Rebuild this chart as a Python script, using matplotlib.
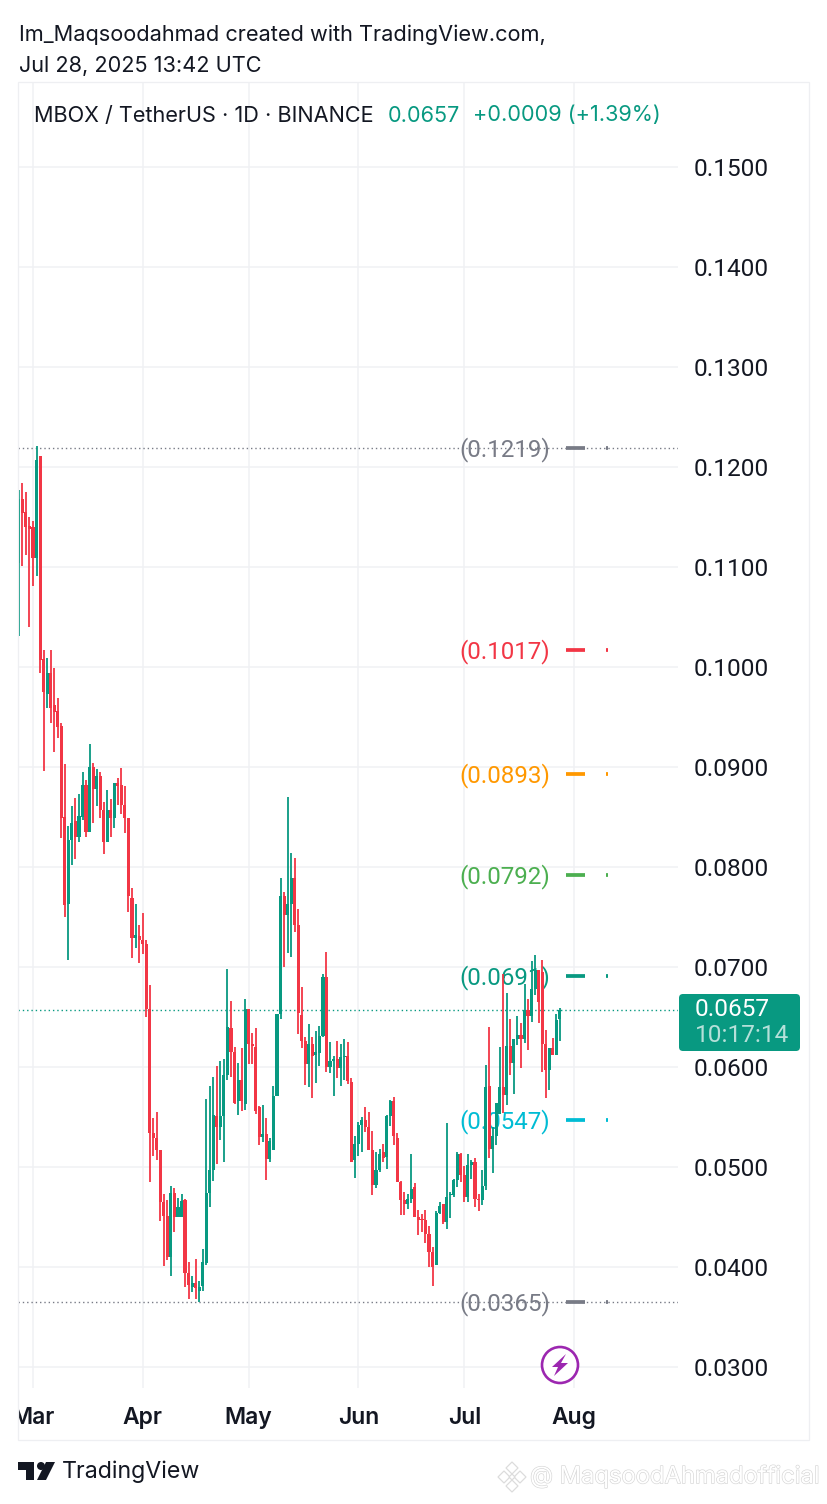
import numpy as np
import pandas as pd
import matplotlib
matplotlib.use('Agg')
import matplotlib.pyplot as plt
import matplotlib.dates as mdates
from matplotlib.patches import Rectangle, Circle, Polygon, FancyBboxPatch
from matplotlib.transforms import Affine2D, Bbox
import matplotlib.patheffects as pe

plt.rcParams['font.family'] = ['Inter', 'DejaVu Sans']

# --- daily candles, 25 Feb -> 28 Jul 2025 ---
start_date = '2025-02-25'
opens = [
    .1104, .1167, .1154, .1140, .1139, .1109, .1210, .1007, .0973, .0993, .0961, .0955, .0940, .0850, .0763, .0827,
    .0846, .0830, .0850, .0881, .0835, .0899, .0878, .0890, .0857, .0825, .0857, .0849, .0883, .0881, .0862, .0849,
    .0769, .0729, .0731, .0727, .0723, .0658, .0534, .0529, .0517, .0465, .0451, .0410, .0474, .0450, .0450, .0467,
    .0394, .0380, .0384, .0376, .0381, .0404, .0474, .0497, .0551, .0540, .0551, .0592, .0639, .0615, .0566, .0587,
    .0563, .0658, .0623, .0620, .0560, .0530, .0533, .0508, .0517, .0571, .0653, .0771, .0752, .0763, .0789, .0742,
    .0652, .0626, .0603, .0623, .0612, .0614, .0631, .0690, .0600, .0606, .0608, .0599, .0610, .0611, .0585, .0507,
    .0523, .0542, .0547, .0540, .0517, .0482, .0497, .0515, .0510, .0551, .0566, .0529, .0485, .0467, .0463, .0468,
    .0480, .0450, .0448, .0447, .0433, .0415, .0402, .0454, .0463, .0445, .0472, .0472, .0487, .0513, .0492, .0470,
    .0502, .0505, .0468, .0467, .0481, .0581, .0518, .0531, .0553, .0580, .0572, .0621, .0604, .0628, .0632, .0628,
    .0657, .0651, .0678, .0697, .0695, .0623, .0597, .0619, .0612, .0648,
]
highs = [
    .1177, .1184, .1175, .1150, .1146, .1221, .1210, .1017, .1009, .1017, .0999, .0969, .0944, .0903, .0841, .0861,
    .0869, .0873, .0895, .0887, .0923, .0904, .0898, .0895, .0865, .0877, .0868, .0884, .0889, .0899, .0881, .0849,
    .0779, .0763, .0742, .0754, .0727, .0682, .0549, .0555, .0517, .0473, .0467, .0481, .0479, .0469, .0473, .0468,
    .0405, .0391, .0408, .0386, .0418, .0568, .0581, .0590, .0601, .0606, .0608, .0698, .0666, .0620, .0604, .0619,
    .0668, .0658, .0634, .0639, .0561, .0562, .0549, .0529, .0581, .0653, .0789, .0775, .0870, .0814, .0809, .0758,
    .0680, .0630, .0643, .0630, .0636, .0641, .0693, .0715, .0625, .0611, .0626, .0623, .0628, .0625, .0589, .0531,
    .0545, .0550, .0560, .0555, .0536, .0515, .0518, .0523, .0552, .0567, .0570, .0534, .0486, .0475, .0473, .0513,
    .0484, .0457, .0453, .0457, .0441, .0420, .0456, .0465, .0463, .0544, .0475, .0488, .0515, .0514, .0501, .0513,
    .0507, .0509, .0473, .0497, .0602, .0640, .0540, .0564, .0620, .0693, .0674, .0648, .0628, .0651, .0644, .0683,
    .0668, .0706, .0712, .0697, .0707, .0637, .0619, .0629, .0653, .0659,
]
lows = [
    .1031, .1101, .1112, .1040, .1081, .1091, .0994, .0896, .0959, .0944, .0915, .0929, .0829, .0750, .0707, .0802,
    .0808, .0825, .0847, .0830, .0835, .0844, .0861, .0849, .0813, .0825, .0830, .0839, .0862, .0853, .0834, .0755,
    .0709, .0719, .0704, .0713, .0650, .0485, .0511, .0507, .0446, .0401, .0407, .0391, .0435, .0450, .0450, .0380,
    .0368, .0375, .0368, .0365, .0376, .0402, .0460, .0486, .0503, .0527, .0505, .0587, .0590, .0563, .0552, .0556,
    .0557, .0603, .0603, .0553, .0522, .0525, .0487, .0505, .0517, .0571, .0648, .0700, .0714, .0710, .0735, .0633,
    .0619, .0582, .0580, .0569, .0584, .0601, .0630, .0595, .0594, .0571, .0589, .0581, .0587, .0583, .0505, .0489,
    .0511, .0515, .0535, .0517, .0472, .0479, .0495, .0505, .0498, .0541, .0522, .0485, .0452, .0452, .0458, .0464,
    .0450, .0432, .0435, .0424, .0400, .0381, .0402, .0453, .0443, .0438, .0449, .0470, .0480, .0485, .0465, .0465,
    .0488, .0460, .0456, .0462, .0477, .0509, .0494, .0522, .0553, .0554, .0562, .0592, .0573, .0622, .0599, .0624,
    .0617, .0645, .0672, .0644, .0595, .0569, .0577, .0612, .0612, .0626,
]
closes = [
    .1167, .1154, .1140, .1138, .1109, .1206, .1007, .0975, .0993, .0959, .0955, .0940, .0849, .0762, .0827, .0844,
    .0830, .0851, .0881, .0835, .0899, .0878, .0890, .0857, .0825, .0857, .0849, .0883, .0881, .0862, .0849, .0771,
    .0729, .0732, .0727, .0723, .0658, .0534, .0529, .0517, .0465, .0451, .0410, .0474, .0450, .0460, .0466, .0394,
    .0382, .0384, .0379, .0380, .0405, .0474, .0497, .0552, .0540, .0551, .0592, .0640, .0615, .0564, .0587, .0566,
    .0658, .0623, .0621, .0556, .0530, .0533, .0508, .0526, .0571, .0653, .0771, .0752, .0763, .0789, .0742, .0654,
    .0626, .0603, .0623, .0611, .0615, .0631, .0690, .0600, .0606, .0608, .0599, .0610, .0611, .0586, .0505, .0523,
    .0542, .0547, .0540, .0517, .0482, .0497, .0513, .0509, .0551, .0566, .0531, .0485, .0467, .0463, .0468, .0478,
    .0450, .0447, .0447, .0433, .0415, .0400, .0454, .0461, .0445, .0470, .0473, .0487, .0513, .0492, .0470, .0502,
    .0505, .0468, .0467, .0481, .0580, .0518, .0531, .0564, .0580, .0572, .0621, .0604, .0628, .0632, .0628, .0657,
    .0651, .0678, .0697, .0665, .0623, .0597, .0619, .0612, .0647, .0657,
]

# pivot levels drawn on the right side
level_prices = [.1219, .1017, .0893, .0792, .0691, .0547, .0365]
level_colors = ['#787b86', '#f23645', '#ff9800', '#4caf50', '#089981', '#00bcd4', '#787b86']

y_ticks = [.03, .04, .05, .06, .07, .08, .09, .10, .11, .12, .13, .14, .15]
month_ticks = ['2025-03-01', '2025-04-01', '2025-05-01', '2025-06-01', '2025-07-01', '2025-08-01']
month_labels = ['Mar', 'Apr', 'May', 'Jun', 'Jul', 'Aug']

last_price = .0657

GREEN = '#089981'
RED = '#f23645'
INK = '#131722'
GRID = '#f0f1f4'
NUM = 'Roboto'  # its digits are all one width, like the original labels

W, H = 828, 1504
fig = plt.figure(figsize=(W / 100, H / 100), dpi=100, facecolor='white')
# decorations are placed in image pixels (y down)
px = Affine2D().scale(1, -1).translate(0, H)

L, R, T, B = 18, 678, 82, 1388
ax = fig.add_axes([L / W, 1 - B / H, (R - L) / W, (B - T) / H])
for s in ax.spines.values():
    s.set_visible(False)

dates = pd.date_range(start_date, periods=len(closes))
x = mdates.date2num(dates)
o, h, l, c = map(np.array, (opens, highs, lows, closes))
up = c >= o
colors = np.where(up, GREEN, RED)

ax.vlines(x, l, h, colors=colors, lw=1.3, zorder=3)
ax.bar(x, np.abs(c - o) + 0.00005, bottom=np.minimum(o, c), width=0.88, color=colors, lw=0, zorder=3.1)

x0 = mdates.date2num(pd.Timestamp('2025-03-01'))
ax.set_xlim(x0 - 15 / 3.536, x0 + 645 / 3.536)
ax.set_ylim(.15 - (B - 166.5) / 10008, .15 + (166.5 - T) / 10008)

ax.set_yticks(y_ticks)
ax.set_yticklabels([f'{v:.4f}' for v in y_ticks])
ax.yaxis.tick_right()
ax.tick_params(axis='y', length=0, pad=11.5, labelsize=17.6, labelcolor=INK, labelfontfamily=NUM)
ax.set_xticks(mdates.date2num(pd.to_datetime(month_ticks)))
ax.set_xticklabels(month_labels, fontweight='semibold')
ax.tick_params(axis='x', length=0, pad=14, labelsize=16.5, labelcolor=INK)
# "Mar" gets cut by the pane edge
clip = Bbox([[L, 0], [W, H]])
for lab in ax.get_xticklabels():
    lab.set_clip_box(clip)
    lab.set_clip_on(True)

ax.grid(True, color=GRID, lw=1.1, zorder=0)
ax.set_axisbelow(True)

# dotted price lines
ax.axhline(.1219, color='#787b86', lw=1, ls=(0, (1, 2.1)), zorder=2)
ax.axhline(.0365, color='#787b86', lw=1, ls=(0, (1, 2.1)), zorder=2)
ax.axhline(last_price, color=GREEN, lw=1, ls=(0, (1, 2.1)), zorder=2)

# level labels, dash and dot
yt = ax.get_yaxis_transform()
for p, col in zip(level_prices, level_colors):
    ax.text((505 - L) / (R - L), p - .00015, f'({p:.4f})', transform=yt, color=col, fontsize=17.4,
            fontfamily=NUM, ha='center', va='center', zorder=1.5)
    ax.plot([(566 - L) / (R - L), (585 - L) / (R - L)], [p, p], transform=yt, color=col, lw=2.7,
            solid_capstyle='butt', zorder=2.5)
    ax.plot([(606.5 - L) / (R - L), (608.5 - L) / (R - L)], [p, p], transform=yt, color=col, lw=2.7,
            solid_capstyle='butt', zorder=2.5)

# frame round the chart
fig.add_artist(Rectangle((18, 82), 791, 1358, transform=px, fill=False, ec='#eeeff2', lw=0.9))

# header
fig.text(19, 34.5, 'Im_Maqsoodahmad created with TradingView.com,', transform=px, fontsize=15.65, color=INK, va='center')
fig.text(19, 65.5, 'Jul 28, 2025 13:42 UTC', transform=px, fontsize=15.65, color=INK, va='center')
fig.text(34, 115.5, 'MBOX / TetherUS · 1D · BINANCE', transform=px, fontsize=15.6, color=INK, va='center')
fig.text(388, 115.5, f'{last_price:.4f}', transform=px, fontsize=15.6, color=GREEN, va='center')
fig.text(473, 115.5, '+0.0009 (+1.39%)', transform=px, fontsize=15.6, color=GREEN, va='center')

# last price tag
fig.add_artist(FancyBboxPatch((682, 997), 115, 51, boxstyle='round,pad=3,rounding_size=4', transform=px,
                              fc=GREEN, ec='none'))
fig.text(695, 1010, f'{last_price:.4f}', transform=px, fontsize=17.6, color='white', va='center', fontfamily=NUM)
fig.text(695, 1036, '10:17:14', transform=px, fontsize=17.6, color='#b5e0d9', va='center', fontfamily=NUM)

# purple bolt badge
fig.add_artist(Circle((560, 1365), 18, transform=px, fc='white', ec='#9c27b0', lw=1.9))
fig.add_artist(Polygon([(566, 1354), (552, 1367), (558, 1367), (554, 1376), (568, 1363), (561, 1363)],
                       transform=px, fc='#9c27b0', ec='none'))

# TradingView logo
fig.add_artist(Polygon([(18, 1462), (34, 1462), (34, 1480), (26, 1480), (26, 1470), (18, 1470)],
                       transform=px, fc=INK, ec='none'))
fig.add_artist(Circle((41, 1466), 4, transform=px, fc=INK, ec='none'))
fig.add_artist(Polygon([(46, 1462), (55, 1462), (46, 1480), (37, 1480)], transform=px, fc=INK, ec='none'))
fig.text(62, 1471.5, 'TradingView', transform=px, fontsize=16.7, color=INK, va='center')

# watermark
halo = [pe.withStroke(linewidth=0.9, foreground='#d5d5d5')]
fig.text(530, 1477, '@ MaqsoodAhmadofficial', transform=px, fontsize=17.1, color='white', va='center',
         path_effects=halo)
for dx, dy, s in [(512, 1468, 6), (504, 1477, 6), (520, 1477, 6), (512, 1486, 6), (512, 1477, 3)]:
    fig.add_artist(Polygon([(dx, dy - s), (dx + s, dy), (dx, dy + s), (dx - s, dy)], transform=px,
                           fc='white', ec='#dcdcdc', lw=0.9))

fig.savefig('out.png', dpi=100)
